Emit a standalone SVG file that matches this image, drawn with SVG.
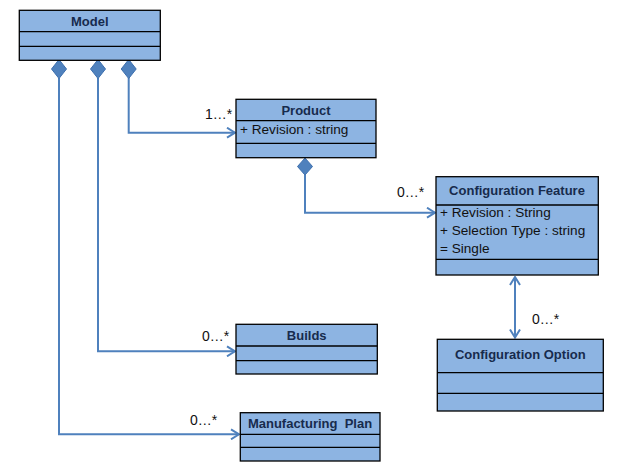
<svg xmlns="http://www.w3.org/2000/svg" width="627" height="475" viewBox="0 0 627 475">
<style>
.box{fill:#8DB4E2;stroke:#000;stroke-width:1.3}
.div{stroke:#000;stroke-width:1.3}
.title{font-family:"Liberation Sans",Arial,sans-serif;font-weight:bold;font-size:13px;fill:#172B4D;text-anchor:middle}
.attr{font-family:"Liberation Sans",Arial,sans-serif;font-size:13.6px;fill:#111}
.lbl{font-family:"Liberation Sans",Arial,sans-serif;font-size:14px;fill:#111}
.conn{fill:none;stroke:#4F81BD;stroke-width:2}
.dia{fill:#4F81BD;stroke:#3C6FAE;stroke-width:1}
</style>
<defs>
<marker id="open" viewBox="0 0 10 12" refX="9" refY="6" markerWidth="10" markerHeight="12" markerUnits="userSpaceOnUse" orient="auto-start-reverse">
<path d="M1,1 L9,6 L1,11" fill="none" stroke="#4F81BD" stroke-width="2"/>
</marker>
</defs>
<rect width="627" height="475" fill="#fff"/>

<g id="connectors">
<path class="conn" d="M128.7,78 V132.7 H235" marker-end="url(#open)"/>
<path class="conn" d="M98,78 V351.3 H235" marker-end="url(#open)"/>
<path class="conn" d="M59,78 V434.3 H239" marker-end="url(#open)"/>
<path class="conn" d="M305,175 V212.7 H435" marker-end="url(#open)"/>
<path class="conn" d="M515,277 V337.5" marker-start="url(#open)" marker-end="url(#open)"/>
<polygon class="dia" points="59,59.5 66.5,69 59,78.5 51.5,69"/>
<polygon class="dia" points="98,59.5 105.5,69 98,78.5 90.5,69"/>
<polygon class="dia" points="128.7,59.5 136.2,69 128.7,78.5 121.2,69"/>
<polygon class="dia" points="305,158 312.5,166.5 305,175 297.5,166.5"/>
<text class="lbl" x="205" y="119">1…*</text>
<text class="lbl" x="397" y="197">0…*</text>
<text class="lbl" x="532" y="324">0…*</text>
<text class="lbl" x="202" y="341">0…*</text>
<text class="lbl" x="190" y="425">0…*</text>
</g>

<g id="model">
<rect class="box" x="19.3" y="10.3" width="141" height="50"/>
<line class="div" x1="19.3" y1="31.7" x2="160.3" y2="31.7"/>
<line class="div" x1="19.3" y1="46.3" x2="160.3" y2="46.3"/>
<text class="title" x="89.8" y="26">Model</text>
</g>

<g id="product">
<rect class="box" x="236" y="99.3" width="140" height="58.4"/>
<line class="div" x1="236" y1="120.7" x2="376" y2="120.7"/>
<line class="div" x1="236" y1="143.3" x2="376" y2="143.3"/>
<text class="title" x="306" y="115">Product</text>
<text class="attr" x="240" y="134">+ Revision : string</text>
</g>

<g id="configuration-feature">
<rect class="box" x="436" y="176.7" width="162.3" height="98.3"/>
<line class="div" x1="436" y1="205" x2="598.3" y2="205"/>
<line class="div" x1="436" y1="259.3" x2="598.3" y2="259.3"/>
<text class="title" x="517" y="195">Configuration Feature</text>
<text class="attr" x="440" y="217">+ Revision : String</text>
<text class="attr" x="440" y="235">+ Selection Type : string</text>
<text class="attr" x="440" y="253">= Single</text>
</g>

<g id="configuration-option">
<rect class="box" x="437.3" y="339.3" width="166" height="71.7"/>
<line class="div" x1="437.3" y1="372.7" x2="603.3" y2="372.7"/>
<line class="div" x1="437.3" y1="393.3" x2="603.3" y2="393.3"/>
<text class="title" x="520.3" y="359">Configuration Option</text>
</g>

<g id="builds">
<rect class="box" x="236" y="324.3" width="141.3" height="49.7"/>
<line class="div" x1="236" y1="346" x2="377.3" y2="346"/>
<line class="div" x1="236" y1="360.7" x2="377.3" y2="360.7"/>
<text class="title" x="306.7" y="339.5">Builds</text>
</g>

<g id="manufacturing-plan">
<rect class="box" x="240.3" y="412.7" width="139.7" height="48.3"/>
<line class="div" x1="240.3" y1="434.3" x2="380" y2="434.3"/>
<line class="div" x1="240.3" y1="447.3" x2="380" y2="447.3"/>
<text class="title" x="310" y="428" xml:space="preserve">Manufacturing  Plan</text>
</g>
</svg>
